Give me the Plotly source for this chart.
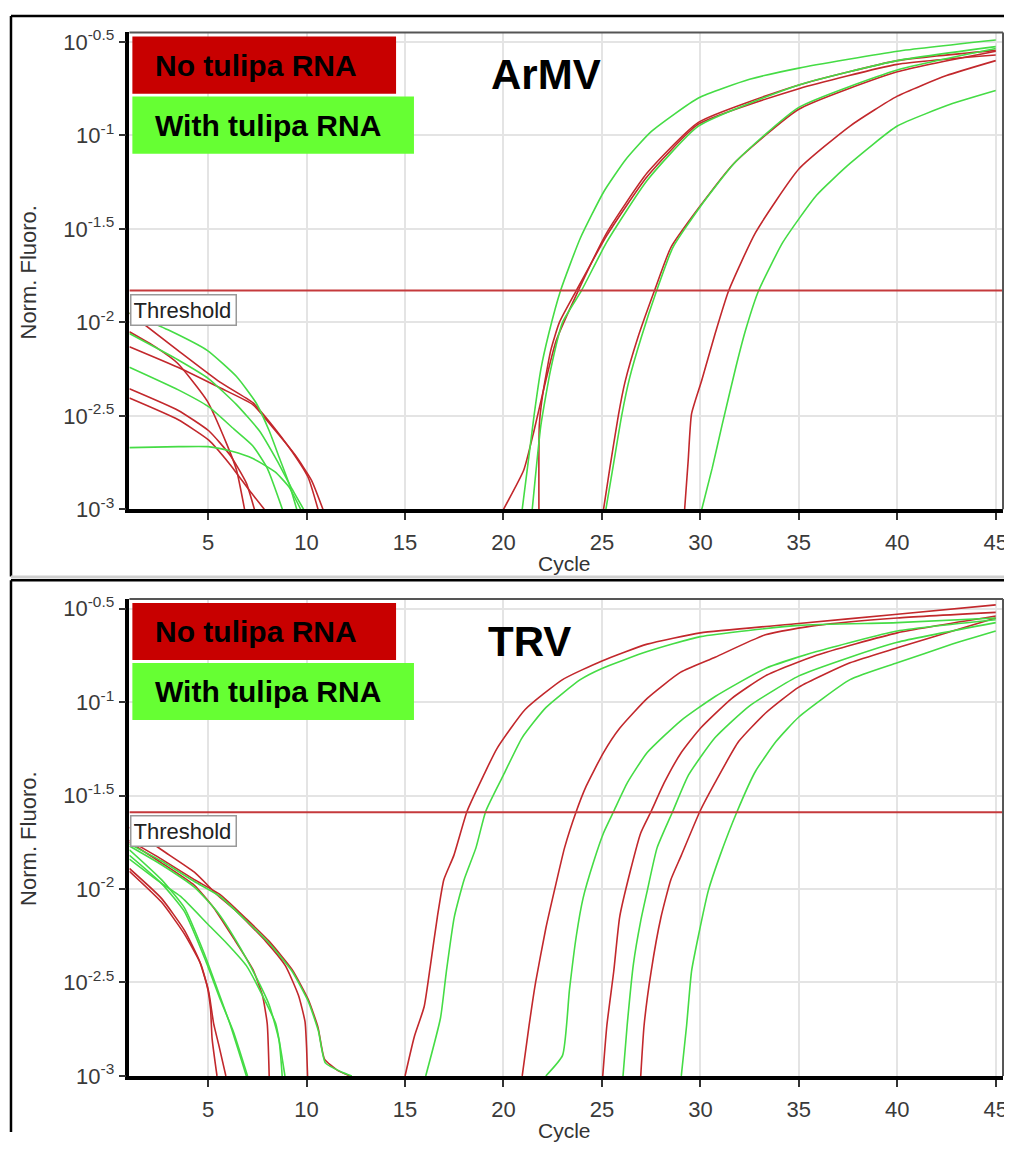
import plotly.graph_objects as go

# ---------------- data (cycle, log10 of normalised fluorescence) ----------------
CYCLE_TICKS = [5, 10, 15, 20, 25, 30, 35, 40, 45]
LOG_TICKS = [-3, -2.5, -2, -1.5, -1, -0.5]
LOG_TICK_TEXT = ["10<sup>-3</sup>", "10<sup>-2.5</sup>", "10<sup>-2</sup>",
                 "10<sup>-1.5</sup>", "10<sup>-1</sup>", "10<sup>-0.5</sup>"]
X_RANGE = [1, 45.37]
LOG_RANGE = [-3, -0.449]

ARMV_THRESHOLD_LOG = -1.83
TRV_THRESHOLD_LOG = -1.59

# ArMV panel - early (baseline) part of traces
ARMV_RED_EARLY_A = [(1, -2.05), (2.3, -2.13), (3.46, -2.22), (4.95, -2.42), (5.94, -2.65), (6.44, -2.79), (6.85, -3.0)]
ARMV_RED_EARLY_B = [(1, -2.355), (3.46, -2.47), (5.03, -2.58), (6.11, -2.71), (6.94, -2.86), (7.35, -3.0)]
ARMV_RED_EARLY_C = [(1, -2.405), (3.46, -2.52), (5.03, -2.63), (6.11, -2.76), (7.1, -2.9), (7.85, -3.0)]
ARMV_RED_EARLY_D = [(1, -1.95), (3.46, -2.15), (5.6, -2.32), (7.27, -2.43), (8.1, -2.53), (9.25, -2.69), (10.08, -2.83), (10.58, -3.0)]
ARMV_RED_EARLY_E = [(1, -2.13), (3.46, -2.24), (5.6, -2.35), (7.27, -2.44), (8.26, -2.56), (9.42, -2.71), (10.25, -2.845), (10.83, -3.0)]
ARMV_GREEN_EARLY_A = [(1, -1.95), (2.96, -2.04), (4.95, -2.15), (6.44, -2.29), (7.43, -2.43), (8.1, -2.58), (8.6, -2.72), (9.1, -2.86), (9.5, -3.0)]
ARMV_GREEN_EARLY_B = [(1, -2.06), (3.46, -2.2), (5, -2.3), (6.44, -2.44), (7.6, -2.58), (8.5, -2.74), (9.2, -2.88), (9.85, -3.0)]
ARMV_GREEN_EARLY_C = [(1, -2.24), (3.46, -2.36), (5, -2.45), (6.3, -2.57), (7.26, -2.66), (8.0, -2.78), (8.77, -3.0)]
ARMV_GREEN_EARLY_D = [(1, -2.67), (3.5, -2.665), (5, -2.665), (6.2, -2.69), (7.3, -2.73), (8.4, -2.8), (9.1, -2.88), (9.7, -3.0)]

# ArMV panel - amplification part of traces
ARMV_RED_1 = [(20, -3.0), (21.03, -2.79), (21.55, -2.58), (22.06, -2.35), (22.67, -2.1), (23.8, -1.83), (25.25, -1.52), (27.3, -1.2), (29.9, -0.93), (35, -0.73), (40, -0.6), (45, -0.545)]
ARMV_RED_2 = [(21.8, -3.0), (21.82, -2.55), (22.0, -2.38), (22.4, -2.15), (22.84, -2.0), (23.7, -1.83), (25.25, -1.535), (27.3, -1.22), (29.9, -0.94), (35, -0.75), (40, -0.62), (45, -0.57)]
ARMV_RED_3 = [(25.08, -3.0), (25.4, -2.78), (25.83, -2.5), (26.17, -2.32), (26.83, -2.08), (27.67, -1.83), (28.5, -1.6), (29.9, -1.39), (31.7, -1.15), (35, -0.86), (40, -0.66), (45, -0.55)]
ARMV_RED_4 = [(29.2, -3.0), (29.38, -2.74), (29.55, -2.49), (30.07, -2.31), (30.75, -2.06), (31.44, -1.83), (32.8, -1.52), (35, -1.18), (37.6, -0.95), (40, -0.79), (42.5, -0.68), (45, -0.6)]
ARMV_GREEN_1 = [(20.95, -3.0), (21.55, -2.5), (21.9, -2.25), (22.3, -2.06), (22.9, -1.83), (23.9, -1.55), (25.1, -1.3), (26.2, -1.13), (27.5, -0.98), (29.9, -0.8), (32.5, -0.7), (35, -0.64), (40, -0.55), (45, -0.49)]
ARMV_GREEN_2 = [(21.46, -3.0), (21.9, -2.55), (22.4, -2.25), (23.0, -2.0), (23.96, -1.83), (25.25, -1.57), (27.3, -1.24), (29.9, -0.95), (35, -0.73), (40, -0.6), (45, -0.525)]
ARMV_GREEN_3 = [(25.2, -3.0), (25.6, -2.75), (26.0, -2.5), (26.4, -2.3), (27.0, -2.08), (27.78, -1.83), (28.6, -1.6), (30, -1.38), (31.8, -1.14), (35, -0.85), (40, -0.65), (45, -0.535)]
ARMV_GREEN_4 = [(30.07, -3.0), (30.6, -2.78), (31.1, -2.55), (31.8, -2.24), (32.3, -2.04), (32.96, -1.83), (34.2, -1.57), (35.9, -1.32), (37.6, -1.15), (40, -0.95), (42.8, -0.83), (45, -0.76)]

# TRV panel - early (baseline) part of traces
TRV_RED_EARLY_P = [(1, -1.89), (2.63, -2.05), (3.79, -2.22), (4.54, -2.38), (4.95, -2.52), (5.12, -2.64), (5.2, -2.8), (5.45, -3.0)]
TRV_RED_EARLY_Q = [(1, -1.905), (2.63, -2.07), (3.79, -2.24), (4.62, -2.4), (5.03, -2.55), (5.28, -2.72), (5.53, -2.83), (5.9, -3.0)]
TRV_RED_EARLY_R = [(1, -1.75), (2.63, -1.86), (4.3, -1.98), (5.28, -2.1), (6.27, -2.26), (7.27, -2.43), (7.76, -2.57), (8.0, -2.72), (8.1, -3.0)]
TRV_RED_EARLY_S = [(1, -1.67), (2.63, -1.79), (4.3, -1.91), (5.45, -2.03), (6.44, -2.12), (7.93, -2.28), (8.92, -2.41), (9.59, -2.57), (9.92, -2.71), (10.0, -2.85), (10.05, -3.0)]
TRV_RED_EARLY_T = [(1, -1.74), (2.63, -1.84), (4.3, -1.95), (5.61, -2.03), (6.94, -2.16), (8.1, -2.28), (9.26, -2.43), (10.08, -2.59), (10.58, -2.74), (10.91, -2.91), (11.57, -2.97), (12.2, -3.0)]
TRV_GREEN_EARLY_P = [(1, -1.79), (2.63, -1.95), (3.79, -2.1), (4.78, -2.34), (5.45, -2.53), (6.1, -2.72), (6.94, -3.0)]
TRV_GREEN_EARLY_Q = [(1, -1.82), (2.63, -1.97), (3.79, -2.12), (4.86, -2.38), (5.61, -2.59), (6.27, -2.76), (7.0, -3.0)]
TRV_GREEN_EARLY_R = [(1, -1.84), (2.63, -1.97), (3.6, -2.04), (5, -2.19), (5.94, -2.29), (6.94, -2.41), (7.76, -2.57), (8.43, -2.72), (8.9, -3.0)]
TRV_GREEN_EARLY_S = [(1, -1.77), (2.63, -1.87), (4.3, -1.99), (5.45, -2.12), (6.44, -2.28), (7.43, -2.47), (8.1, -2.62), (8.6, -2.81), (8.76, -3.0)]
TRV_GREEN_EARLY_T = [(1, -1.76), (2.63, -1.85), (4.3, -1.96), (5.61, -2.04), (6.94, -2.17), (8.1, -2.29), (9.26, -2.44), (10.08, -2.6), (10.6, -2.76), (10.95, -2.93), (11.8, -2.98), (12.3, -3.0)]

# TRV panel - amplification part of traces
TRV_RED_1 = [(15, -3.0), (15.47, -2.79), (15.97, -2.63), (16.3, -2.4), (16.64, -2.15), (16.97, -1.95), (17.48, -1.82), (18.15, -1.584), (19.0, -1.39), (19.66, -1.25), (21.1, -1.04), (23, -0.88), (25, -0.78), (27.3, -0.69), (30, -0.63), (35, -0.58), (40, -0.53), (45, -0.48)]
TRV_RED_2 = [(20.95, -3.0), (21.3, -2.73), (21.63, -2.5), (22.15, -2.21), (22.67, -1.97), (23.1, -1.78), (23.7, -1.584), (24.2, -1.45), (25.08, -1.27), (25.9, -1.14), (27.3, -0.98), (29, -0.84), (30.75, -0.76), (33.3, -0.64), (35.9, -0.59), (40, -0.55), (45, -0.52)]
TRV_RED_3 = [(25.04, -3.0), (25.25, -2.73), (25.6, -2.44), (25.9, -2.15), (26.45, -1.9), (26.97, -1.7), (27.5, -1.584), (28.17, -1.43), (29.03, -1.27), (30, -1.14), (31.6, -0.98), (33.3, -0.86), (35.9, -0.75), (40, -0.63), (45, -0.54)]
TRV_RED_4 = [(26.97, -3.0), (27.14, -2.73), (27.5, -2.44), (28, -2.15), (28.5, -1.95), (29.03, -1.82), (29.98, -1.584), (30.75, -1.43), (31.95, -1.21), (33.3, -1.06), (35, -0.92), (37.6, -0.79), (40, -0.71), (45, -0.55)]
TRV_GREEN_1 = [(16.05, -3.0), (16.8, -2.69), (17.1, -2.44), (17.5, -2.15), (18, -1.95), (18.6, -1.78), (19.1, -1.584), (20, -1.39), (20.95, -1.19), (22.15, -1.03), (23.9, -0.88), (25, -0.82), (27.3, -0.73), (30, -0.65), (35, -0.59), (40, -0.575), (45, -0.55)]
TRV_GREEN_2 = [(22.15, -3.0), (23, -2.89), (23.35, -2.54), (23.7, -2.25), (24.04, -2.05), (24.56, -1.86), (25.08, -1.7), (25.6, -1.584), (26.3, -1.43), (27.3, -1.27), (29, -1.1), (30.75, -0.97), (33.3, -0.82), (35.9, -0.73), (40, -0.62), (45, -0.56)]
TRV_GREEN_3 = [(26.07, -3.0), (26.28, -2.73), (26.6, -2.4), (26.97, -2.17), (27.3, -2.01), (27.8, -1.78), (28.6, -1.584), (29.4, -1.39), (30.75, -1.19), (32.5, -1.02), (35, -0.86), (37.6, -0.76), (40, -0.68), (45, -0.575)]
TRV_GREEN_4 = [(29.03, -3.0), (29.3, -2.73), (29.55, -2.44), (29.9, -2.25), (30.4, -2.01), (31, -1.82), (31.87, -1.584), (32.8, -1.37), (33.85, -1.21), (35, -1.08), (37.6, -0.88), (40, -0.79), (42.8, -0.69), (45, -0.62)]

PANEL_TITLES = ["ArMV", "TRV"]
LEGEND_LABELS = ["No tulipa RNA", "With tulipa RNA"]

# ---------------- styling ----------------
# the page body has an 8 px margin, so the figure is placed 8 px in from the window corner;
# keep the page no taller than the window so no scrollbar appears
PAGE_MARGIN = 8
W, H = 1012 - PAGE_MARGIN, 1153 - 2 * PAGE_MARGIN
RED = "#c2282c"
GREEN = "#45dc45"
FONT = "Liberation Sans, Arial, sans-serif"


def px(x):
    return (x - PAGE_MARGIN) / W


def py(y):
    return 1 - (y - PAGE_MARGIN) / H


fig = go.Figure()

panels = [
    dict(xa="x", ya="y", thr=ARMV_THRESHOLD_LOG,
         red=[ARMV_RED_EARLY_A, ARMV_RED_EARLY_B, ARMV_RED_EARLY_C, ARMV_RED_EARLY_D, ARMV_RED_EARLY_E,
              ARMV_RED_1, ARMV_RED_2, ARMV_RED_3, ARMV_RED_4],
         green=[ARMV_GREEN_EARLY_A, ARMV_GREEN_EARLY_B, ARMV_GREEN_EARLY_C, ARMV_GREEN_EARLY_D,
                ARMV_GREEN_1, ARMV_GREEN_2, ARMV_GREEN_3, ARMV_GREEN_4]),
    dict(xa="x2", ya="y2", thr=TRV_THRESHOLD_LOG,
         red=[TRV_RED_EARLY_P, TRV_RED_EARLY_Q, TRV_RED_EARLY_R, TRV_RED_EARLY_S, TRV_RED_EARLY_T,
              TRV_RED_1, TRV_RED_2, TRV_RED_3, TRV_RED_4],
         green=[TRV_GREEN_EARLY_P, TRV_GREEN_EARLY_Q, TRV_GREEN_EARLY_R, TRV_GREEN_EARLY_S, TRV_GREEN_EARLY_T,
                TRV_GREEN_1, TRV_GREEN_2, TRV_GREEN_3, TRV_GREEN_4]),
]

for p in panels:
    for color, curves in ((RED, p["red"]), (GREEN, p["green"])):
        for pts in curves:
            fig.add_trace(go.Scatter(
                x=[c for c, _ in pts], y=[10 ** v for _, v in pts],
                mode="lines", line=dict(color=color, width=1.6, shape="spline", smoothing=0.5),
                xaxis=p["xa"], yaxis=p["ya"], showlegend=False, hoverinfo="skip"))
    fig.add_trace(go.Scatter(
        x=X_RANGE, y=[10 ** p["thr"]] * 2, mode="lines",
        line=dict(color="#c53a3c", width=2), xaxis=p["xa"], yaxis=p["ya"],
        showlegend=False, hoverinfo="skip"))

# panel geometry in window pixels
X0, X1 = 130, 1008
PANEL_Y = [(26.7, 511.7), (603, 1088)]
OFFSETS = [0, 576]

axis_common = dict(
    showgrid=True, gridcolor="#e4e4e4", gridwidth=1.5,
    showline=True, linecolor="black", linewidth=3.5, mirror=False,
    ticks="outside", ticklen=7, tickwidth=1.5, tickcolor="#333",
    tickfont=dict(family=FONT, size=22, color="#3a3a3a"), zeroline=False,
    ticklabeloverflow="allow",
)

layout = dict(
    width=W, height=H, margin=dict(l=0, r=0, t=0, b=0),
    paper_bgcolor="white", plot_bgcolor="white", showlegend=False,
)
for i, (top, bot) in enumerate(PANEL_Y):
    sfx = "" if i == 0 else "2"
    layout["xaxis" + sfx] = dict(axis_common, domain=[px(X0), px(X1)], range=X_RANGE,
                                 tickvals=CYCLE_TICKS, anchor="y" + sfx, ticklabelstandoff=4)
    layout["yaxis" + sfx] = dict(axis_common, domain=[py(bot), py(top)], type="log",
                                 range=LOG_RANGE, tickvals=[10 ** v for v in LOG_TICKS],
                                 ticktext=LOG_TICK_TEXT, anchor="x" + sfx)
fig.update_layout(**layout)

shapes = []
annotations = []
for i, (top, bot) in enumerate(PANEL_Y):
    sfx = "" if i == 0 else "2"
    off = OFFSETS[i]
    # thin dark border on top / right of the plot area
    shapes.append(dict(type="line", xref="paper", yref="paper", x0=px(X0), x1=px(X1),
                       y0=py(top), y1=py(top), line=dict(color="#555", width=2)))
    shapes.append(dict(type="line", xref="paper", yref="paper", x0=px(X1), x1=px(X1),
                       y0=py(top), y1=py(bot), line=dict(color="#555", width=2)))
    # legend boxes
    shapes.append(dict(type="rect", xref="paper", yref="paper", x0=px(133), x1=px(398),
                       y0=py(31 + off), y1=py(89 + off), fillcolor="#c80000", line=dict(width=0),
                       layer="above"))
    shapes.append(dict(type="rect", xref="paper", yref="paper", x0=px(133), x1=px(416),
                       y0=py(92 + off), y1=py(150 + off), fillcolor="#66ff33", line=dict(width=0),
                       layer="above"))
    annotations.append(dict(text="<b>" + LEGEND_LABELS[0] + "</b>", xref="paper", yref="paper",
                            x=px(154), y=py(60 + off), xanchor="left", yanchor="middle", showarrow=False,
                            font=dict(family=FONT, size=30, color="black")))
    annotations.append(dict(text="<b>" + LEGEND_LABELS[1] + "</b>", xref="paper", yref="paper",
                            x=px(154), y=py(121 + off), xanchor="left", yanchor="middle", showarrow=False,
                            font=dict(family=FONT, size=30, color="black")))
    # panel title
    annotations.append(dict(text="<b>" + PANEL_TITLES[i] + "</b>", xref="paper", yref="paper",
                            x=px(549 if i == 0 else 532), y=py(70 + off), xanchor="center",
                            yanchor="middle", showarrow=False,
                            font=dict(family=FONT, size=42, color="black")))
    # threshold label (annotation y on a log axis is given in log10 units)
    annotations.append(dict(text="Threshold", xref="paper", yref="y" + sfx,
                            x=px(131), y=panels[i]["thr"], xanchor="left", yanchor="top",
                            yshift=-3, showarrow=False, bgcolor="white", bordercolor="#999",
                            borderwidth=1.5, borderpad=2, width=100, height=25, align="left",
                            font=dict(family=FONT, size=22, color="#222")))
    # axis titles
    annotations.append(dict(text="Cycle", xref="paper", yref="paper", x=px(567), y=py(567 + off),
                            xanchor="center", yanchor="middle", showarrow=False,
                            font=dict(family=FONT, size=21, color="#333")))
    annotations.append(dict(text="Norm. Fluoro.", xref="paper", yref="paper", x=px(29),
                            y=py(271 + off), xanchor="center", yanchor="middle", textangle=-90,
                            showarrow=False, font=dict(family=FONT, size=22, color="#333")))

# outer panel frames
shapes.append(dict(type="line", xref="paper", yref="paper", x0=px(11), x1=1, y0=py(10), y1=py(10),
                   line=dict(color="black", width=2.5)))
shapes.append(dict(type="line", xref="paper", yref="paper", x0=px(11), x1=px(11), y0=py(10), y1=py(580),
                   line=dict(color="black", width=2.5)))
shapes.append(dict(type="line", xref="paper", yref="paper", x0=px(11), x1=1, y0=py(580.5), y1=py(580.5),
                   line=dict(color="#cfcfcf", width=3)))
shapes.append(dict(type="line", xref="paper", yref="paper", x0=px(11), x1=1, y0=py(584), y1=py(584),
                   line=dict(color="black", width=2.5)))
shapes.append(dict(type="line", xref="paper", yref="paper", x0=px(11), x1=px(11), y0=py(584), y1=0,
                   line=dict(color="black", width=2.5)))

fig.update_layout(shapes=shapes, annotations=annotations)
fig.write_html("out.html")
